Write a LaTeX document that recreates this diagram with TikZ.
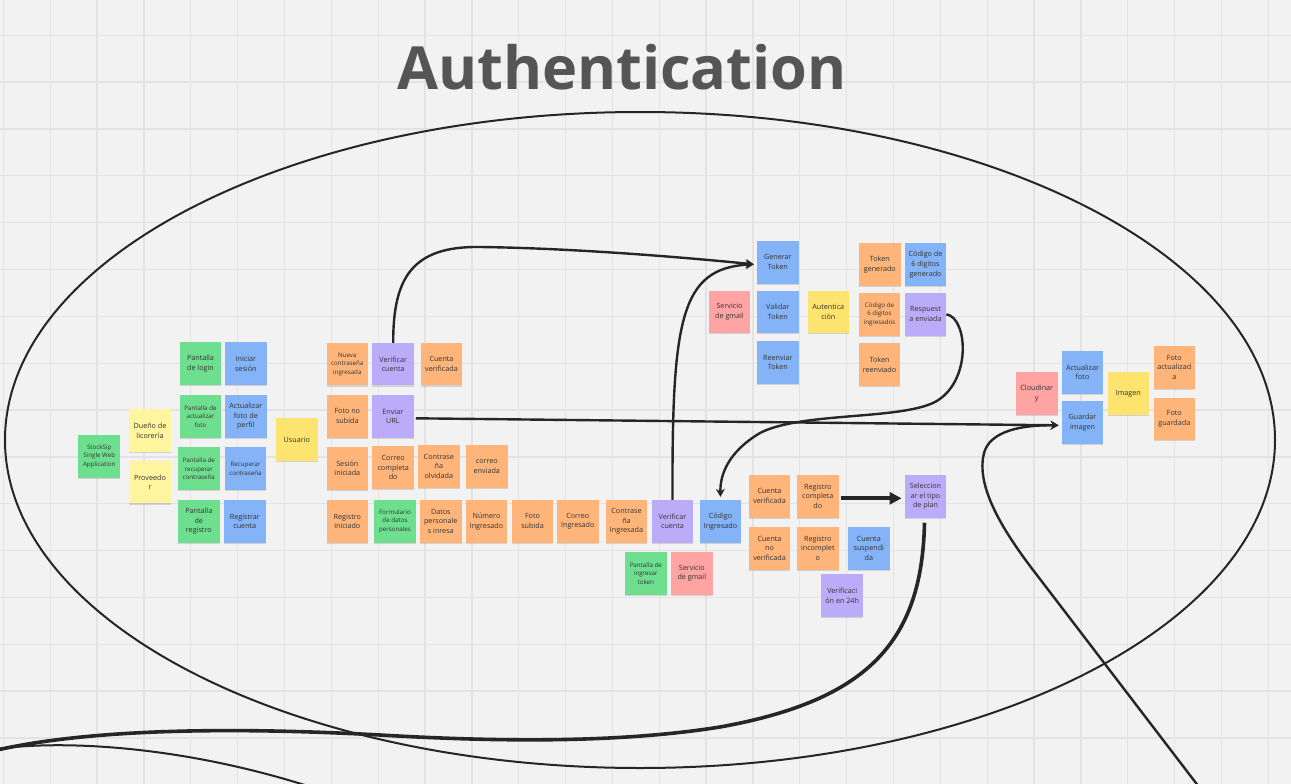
\documentclass[tikz,border=0pt]{standalone}
\usepackage{fontspec}
\setmainfont{Open Sans}
\usetikzlibrary{arrows.meta,shadows,calc}
\definecolor{bg}{HTML}{F2F2F2}
\definecolor{gridc}{HTML}{E3E3E3}
\definecolor{ngreen}{HTML}{6EDF8F}
\definecolor{nblue}{HTML}{84B3F7}
\definecolor{nyellow}{HTML}{FDE46E}
\definecolor{npale}{HTML}{FFF59E}
\definecolor{norange}{HTML}{FFB57A}
\definecolor{npurple}{HTML}{BAACF9}
\definecolor{npink}{HTML}{FFA3A3}
\definecolor{ntext}{HTML}{333333}
\definecolor{ink}{HTML}{262626}
\definecolor{titlec}{HTML}{555555}
\begin{document}
\begin{tikzpicture}[x=1pt,y=-1pt,
  note/.style={minimum width=41.5pt,minimum height=42.5pt,inner sep=0pt,align=center,text=ntext,
    font=\fontsize{7.2}{9.8}\selectfont,
    drop shadow={shadow xshift=0pt,shadow yshift=-1.2pt,opacity=0.13,fill=black}},
  sm/.style={font=\fontsize{6.2}{8.6}\selectfont},
  gn/.style={note,fill=ngreen},
  bn/.style={note,fill=nblue},
  yn/.style={note,fill=nyellow},
  pyn/.style={note,fill=npale},
  on/.style={note,fill=norange},
  pn/.style={note,fill=npurple},
  rn/.style={note,fill=npink},
  link/.style={draw=ink,line width=2.4pt,-{Stealth[length=8pt,width=9pt]}},
  wire/.style={draw=ink,line width=2pt},
  gridline/.style={draw=gridc,line width=1.3pt}
]
\useasboundingbox (0,0) rectangle (1291,784);
\fill[bg] (0,0) rectangle (1291,784);
\foreach \i in {0,...,27} \draw[gridline] ({3.35+46.85*\i},0) -- ({3.35+46.85*\i},784);
\foreach \j in {0,...,16} \draw[gridline] (0,{35.2+46.85*\j}) -- (1291,{35.2+46.85*\j});

% title
\node[anchor=base,inner sep=0pt,text=titlec,font=\fontsize{59.5}{60}\selectfont\bfseries] (title) at (622,89) {Authentication};

% big ellipse
\draw[wire] (640,440) ellipse [x radius=635, y radius=328];

% notes
\node[gn,sm] (stock) at (99.2,456.3) {StockSip\\Single Web\\Application};
\node[pyn] (duen) at (150,430.5) {Dueño de\\licorería};
\node[pyn] (prov) at (150,482.2) {Proveedo\\r};
\node[gn] (plog) at (200.5,363.7) {Pantalla\\de login};
\node[bn] (inic) at (245.8,363.7) {Iniciar\\sesión};
\node[gn,sm] (pact) at (200.5,416.3) {Pantalla de\\actualizar\\foto};
\node[bn] (actf) at (245.8,416.3) {Actualizar\\foto de\\perfil};
\node[gn,sm] (prec) at (198.8,468.7) {Pantalla de\\recuperar\\contraseña};
\node[bn,sm] (recc) at (245.5,468.7) {Recuperar\\contraseña};
\node[gn] (preg) at (198.8,521.3) {Pantalla\\de\\registro};
\node[bn] (regc) at (244.8,521.3) {Registrar\\cuenta};
\node[yn] (usu) at (296.8,439.5) {Usuario};

\node[on,sm] (nueva) at (347.3,364.2) {Nueva\\contraseña\\ingresada};
\node[pn] (vc1) at (393.2,364.2) {Verificar\\cuenta};
\node[on] (cv1) at (441.5,364.2) {Cuenta\\verificada};
\node[on] (fns) at (347.3,416.3) {Foto no\\subida};
\node[pn] (url) at (392.8,416.3) {Enviar\\URL};
\node[on] (ses) at (347.3,468.3) {Sesión\\iniciada};
\node[on] (corc) at (393.2,467.5) {Correo\\completa\\do};
\node[on] (conto) at (438.8,466.3) {Contrase\\ña\\olvidada};
\node[on] (core) at (486.8,466.3) {correo\\enviada};
\node[on] (regi) at (347.3,521.3) {Registro\\iniciado};
\node[gn,sm] (form) at (395,521.3) {Formulario\\de datos\\personales};
\node[on] (datp) at (440.8,521.3) {Datos\\personale\\s inresa};
\node[on] (num) at (486.5,521.3) {Número\\Ingresado};
\node[on] (fsub) at (532.5,521.3) {Foto\\subida};
\node[on] (corI) at (577.8,521.3) {Correo\\Ingresado};
\node[on] (conI) at (626.5,521.3) {Contrase\\ña\\Ingresada};
\node[pn] (vc2) at (672.5,521.3) {Verificar\\cuenta};
\node[bn] (codI) at (720.5,521.3) {Código\\Ingresado};
\node[gn,sm] (ptok) at (645.8,573.3) {Pantalla de\\ingresar\\token};
\node[rn] (gm2) at (691.8,573.3) {Servicio\\de gmail};

\node[bn] (gen) at (777.8,262.3) {Generar\\Token};
\node[rn] (gm1) at (729.5,312) {Servicio\\de gmail};
\node[bn] (val) at (777.8,312) {Validar\\Token};
\node[yn] (aut) at (828.3,312) {Autentica\\ción};
\node[bn] (reen) at (777.8,362.3) {Reenviar\\Token};
\node[on] (tgen) at (879.8,264.7) {Token\\generado};
\node[bn] (cgen) at (925.5,264.7) {Código de\\6 digitos\\generado};
\node[on,sm] (cing) at (879.5,314.3) {Código de\\6 digitos\\ingresados};
\node[pn] (resp) at (925.5,314.3) {Respuest\\a enviada};
\node[on] (tree) at (879.5,364.7) {Token\\reenviado};

\node[on] (cv2) at (769.5,496.3) {Cuenta\\verificada};
\node[on] (rcomp) at (817.8,496.3) {Registro\\completa\\do};
\node[pn] (sel) at (925.5,496.3) {Seleccion\\ar el tipo\\de plan};
\node[on] (cnv) at (769.5,548.3) {Cuenta\\no\\verificada};
\node[on] (rinc) at (817.8,548.3) {Registro\\incomplet\\o};
\node[bn] (csus) at (868.8,548.3) {Cuenta\\suspendi\\da};
\node[pn] (v24) at (842.2,595.7) {Verificaci\\ón en 24h};

\node[rn] (cloud) at (1036.8,393.3) {Cloudinar\\y};
\node[bn] (actfo) at (1082.5,372.3) {Actualizar\\foto};
\node[bn] (guard) at (1082.5,422.3) {Guardar\\imagen};
\node[yn] (img) at (1128.3,393.3) {Imagen};
\node[on] (fact) at (1174.3,367.3) {Foto\\actualizad\\a};
\node[on] (fgua) at (1174.3,419) {Foto\\guardada};

% connectors
\draw[link] (vc1.north) .. controls (393,278) and (412,246) .. (480,247) .. controls (560,248) and (660,255) .. ($(gen.west)+(-3,2)$);
\draw[link] (vc2.north) .. controls (672,320) and (680,268) .. ($(gen.west)+(-3,2)$);
\draw[link] (resp.east) .. controls (968,318) and (972,382) .. (935,402) .. controls (900,420) and (800,412) .. (760,433) .. controls (728,452) and (720,475) .. ($(codI.north)+(0,-3)$);
\draw[link] ($(url.east)+(2,2)$) -- ($(guard.west)+(-3,3)$);
\coordinate (c5s) at (1199,787);
\draw[link] (c5s) -- (1030,566) .. controls (1000,526) and (974,482) .. (985,450) .. controls (994,428) and (1030,425) .. ($(guard.west)+(-3,3)$);
\draw[ink,line width=4pt,-{Triangle[length=12pt,width=12pt]}] ($(rcomp.east)+(2,2)$) -- ($(sel.west)+(-3,2)$);
\coordinate (c6e) at (-3,750);
\draw[ink,line width=3.6pt] ($(sel.south)+(-1,5)$) .. controls (922,640) and (870,700) .. (720,727) .. controls (620,743) and (500,742) .. (380,735) .. controls (250,728) and (100,727) .. (c6e);
\coordinate (c7s) at (-3,749);
\coordinate (c7e) at (311,787);
\draw[wire] (c7s) .. controls (60,740) and (180,745) .. (c7e);
\end{tikzpicture}
\end{document}
